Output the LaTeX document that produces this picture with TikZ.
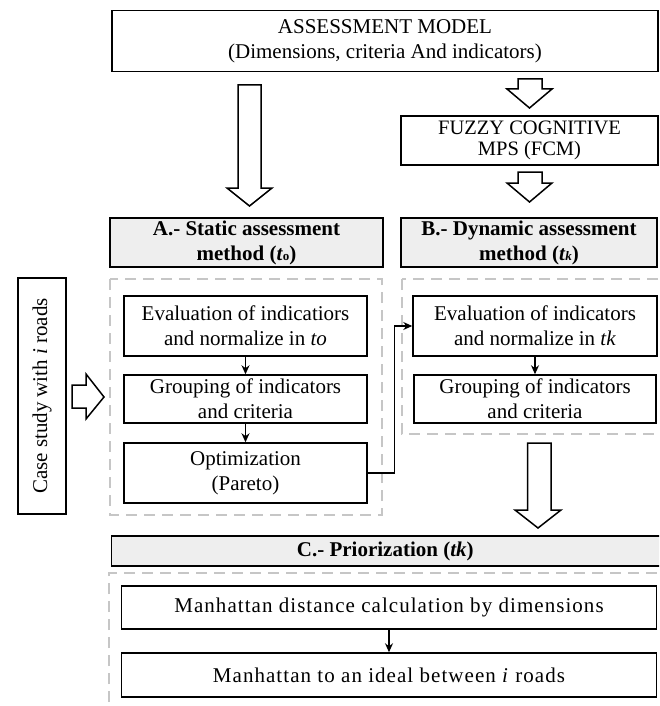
\documentclass[tikz,border=0pt]{standalone}
\usepackage{fontspec}
\setmainfont{Liberation Serif}
\usetikzlibrary{arrows.meta}
\tikzset{
  box/.style={draw, line width=1.5pt, fill=white, align=center, inner sep=0pt, font=\fontsize{21}{25}\selectfont},
  hdr/.style={box, fill=gray!13, font=\fontsize{21}{25}\selectfont\bfseries},
  dbox/.style={draw=gray!45, line width=1.5pt, dash pattern=on 11pt off 7pt},
  blockarrow/.style={draw, line width=1.5pt, fill=white, line join=miter},
  conn/.style={draw, line width=1.4pt, -{Stealth[length=9pt,width=8pt]}}
}
\begin{document}
\begin{tikzpicture}[x=1pt,y=-1pt]
\useasboundingbox (0,0) rectangle (659,706);
\clip (0,0) rectangle (659,706);
\fill[white] (0,0) rectangle (659,706);

% dashed containers
\draw[dbox] (110,279) rectangle (382,515);
\draw[dbox] (402,279) rectangle (690,434);
\draw[dbox] (109,720) -- (109,573) -- (700,573);

% top
\node[box, minimum width=546pt, minimum height=61pt] (am) at (385,41)
  {ASSESSMENT MODEL\\(Dimensions, criteria And indicators)};
\node[box, minimum width=257pt, minimum height=49pt, font=\fontsize{20.5}{21}\selectfont] (fcm) at (529.5,140.5)
  {FUZZY COGNITIVE\\MPS (FCM)};

% headers
\node[hdr, minimum width=273pt, minimum height=49pt] (ha) at (246.5,242.5)
  {A.- Static assessment\\method (\textit{t}{\fontsize{13}{13}\selectfont o})};
\node[hdr, minimum width=256pt, minimum height=49pt] (hb) at (529,242.5)
  {B.- Dynamic assessment\\method (\textit{t}{\fontsize{13}{13}\selectfont\itshape k})};
\node[hdr, minimum width=560pt, minimum height=30pt, anchor=west] (hc) at (110.5,551)
  {\hspace*{-12pt}C.- Priorization (\textit{tk})};

% A column
\node[box, minimum width=243pt, minimum height=60pt] (aeval) at (245.5,326)
  {Evaluation of indicatiors\\and normalize in \textit{to}};
\node[box, minimum width=243pt, minimum height=48pt] (agroup) at (245.5,399)
  {Grouping of indicators\\and criteria};
\node[box, minimum width=243pt, minimum height=60pt] (aopt) at (245.5,473)
  {Optimization\\(Pareto)};

% B column
\node[box, minimum width=244pt, minimum height=60pt] (beval) at (535,326)
  {Evaluation of indicators\\and normalize in \textit{tk}};
\node[box, minimum width=242pt, minimum height=48pt] (bgroup) at (535,399)
  {Grouping of indicators\\and criteria};

% C
\node[box, minimum width=535pt, minimum height=43pt, font=\fontsize{21}{25}\selectfont\addfontfeature{LetterSpace=5}] (c1) at (389,607.5)
  {Manhattan distance calculation by dimensions};
\node[box, minimum width=535pt, minimum height=44pt, font=\fontsize{21}{25}\selectfont\addfontfeature{LetterSpace=5}] (c2) at (389,675)
  {Manhattan to an ideal between \textit{i} roads};

% case study
\node[box, minimum width=236pt, minimum height=48pt, rotate=90] (case) at (42,396)
  {Case study with \textit{i} roads};

% connectors
\draw[conn] (aeval) -- (agroup);
\draw[conn] (agroup) -- (aopt);
\draw[conn] (beval) -- (bgroup);
\draw[conn] (c1) -- (c2);
\draw[conn] (aopt.east) -- ++(27,0) |- (beval.west);

% block arrows
\draw[blockarrow] (238,85) -- (261,85) -- (261,188) -- (272,188) -- (249.5,206) -- (227,188) -- (238,188) -- cycle;
\draw[blockarrow] (518,79) -- (542,79) -- (542,89) -- (552,89) -- (529.5,108) -- (507,89) -- (518,89) -- cycle;
\draw[blockarrow] (518,172) -- (542,172) -- (542,183) -- (552,183) -- (529.5,202) -- (507,183) -- (518,183) -- cycle;
\draw[blockarrow] (527.5,443) -- (551,443) -- (551,510) -- (561,510) -- (538,528) -- (515,510) -- (527.5,510) -- cycle;
\draw[blockarrow] (72,385) -- (86,385) -- (86,374) -- (104,397) -- (86,419) -- (86,408) -- (72,408) -- cycle;
\end{tikzpicture}
\end{document}
